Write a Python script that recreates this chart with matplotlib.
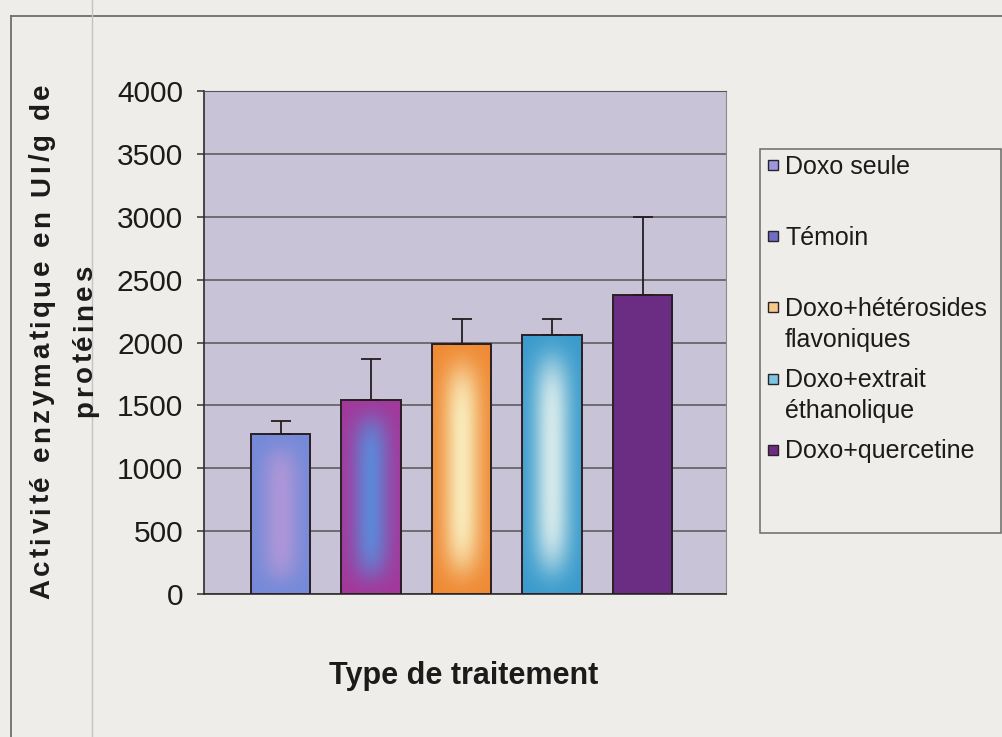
import numpy as np
import matplotlib
matplotlib.use("Agg")
import matplotlib.pyplot as plt
from matplotlib.patches import Rectangle
from matplotlib.lines import Line2D
from matplotlib.font_manager import FontProperties, findfont, get_font
from matplotlib.colors import to_rgb

# ---- data -------------------------------------------------------------
treatments = ["Doxo seule", "Témoin", "Doxo+hétérosides\nflavoniques",
              "Doxo+extrait\néthanolique", "Doxo+quercetine"]
activity = [1270, 1545, 1990, 2060, 2380]          # UI/g de protéines
activity_sd = [105, 320, 200, 130, 620]             # upper error
y_ticks = [0, 500, 1000, 1500, 2000, 2500, 3000, 3500, 4000]
y_title = ["Activité enzymatique en UI/g de", "protéines"]
x_title = "Type de traitement"

# gradient colours (outer edge -> centre) for each bar
edge_colors = ["#748ad8", "#a3389a", "#ef8a34", "#3a9bcc", "#6b2d83"]
center_colors = ["#ad96d8", "#5f86d6", "#f9e9b8", "#d2e8ea", "#6b2d83"]
swatch_colors = ["#9c98de", "#6f6cc6", "#f6c88a", "#7cc4e2", "#6b2d83"]

# ---- figure -----------------------------------------------------------
W, H = 1002, 737
FAMILY = "Liberation Sans"
INK = "#1d1a1b"
PAPER = "#eeede9"

fig = plt.figure(figsize=(W / 100, H / 100), dpi=100, facecolor=PAPER)


def fx(x):
    return x / W


def fy(y_img):
    return 1 - y_img / H


# chart frame (open at right and bottom) and a faint ruling line
fig.add_artist(Line2D([fx(11), fx(11)], [fy(16), 0], color="#6e6e6e", lw=1.3))
fig.add_artist(Line2D([fx(11), 1], [fy(16), fy(16)], color="#6e6e6e", lw=1.3))
fig.add_artist(Line2D([fx(92), fx(92)], [0, 1], color="#c4c4c2", lw=1.0))

ax = fig.add_axes([fx(204), fy(594), (726 - 204) / W, (594 - 91) / H])
ax.set_facecolor("#c8c3d6")

x = np.arange(len(activity))
bar_w = 0.657
bars = ax.bar(x, activity, width=bar_w, facecolor="none",
              edgecolor="#2a1f24", linewidth=1.4, zorder=4)


def gradient_image(c_edge, c_center, nx=80, ny=200):
    u = np.linspace(-1, 1, nx)
    v = np.linspace(-1, 1, ny)
    U, V = np.meshgrid(u, v)
    w = np.exp(-(U / 0.62) ** 2) * np.exp(-(V / 0.82) ** 6)
    e = np.array(to_rgb(c_edge))
    c = np.array(to_rgb(c_center))
    return e + (c - e) * w[..., None]


for patch, ce, cc in zip(bars.patches, edge_colors, center_colors):
    x0, y0 = patch.get_x(), patch.get_y()
    bw, bh = patch.get_width(), patch.get_height()
    im = ax.imshow(gradient_image(ce, cc), extent=[x0, x0 + bw, y0, y0 + bh],
                   origin="lower", aspect="auto", interpolation="bilinear",
                   zorder=3)
    im.set_clip_path(patch)

ax.errorbar(x, activity, yerr=[np.zeros(len(activity)), activity_sd],
            fmt="none", ecolor="#241c1f", elinewidth=1.3, capsize=7,
            capthick=1.3, zorder=5)

ax.set_xlim(-0.845, 4.92)
ax.set_ylim(0, 4000)
ax.set_yticks(y_ticks)
ax.set_yticklabels([str(t) for t in y_ticks], fontsize=21.5, family=FAMILY,
                   color=INK)
ax.set_xticks([])
ax.tick_params(axis="y", length=5, width=1.1, pad=10, color="#333333")
ax.yaxis.grid(True, color="#555555", lw=1.1)
ax.set_axisbelow(True)
for side in ("left", "bottom"):
    ax.spines[side].set_color("#2c2c2c")
    ax.spines[side].set_linewidth(1.2)
ax.spines["top"].set_color("#555555")
ax.spines["right"].set_color("#8a8a8a")


# ---- axis titles --------------------------------------------------------
def spaced_vertical(text, x_base, y_center_img, size, spacing):
    """Bold text rotated 90 deg, drawn glyph by glyph with extra tracking."""
    prop = FontProperties(family=FAMILY, weight="bold", size=size)
    font = get_font(findfont(prop))
    font.set_size(size, fig.dpi)
    adv = [font.load_char(ord(c)).linearHoriAdvance / 65536 for c in text]
    total = sum(adv) + spacing * (len(text) - 1)
    pos = (H - y_center_img) - total / 2
    for ch, a in zip(text, adv):
        fig.text(fx(x_base), pos / H, ch, rotation=90, rotation_mode="anchor",
                 ha="left", va="baseline", fontproperties=prop, color=INK)
        pos += a + spacing


spaced_vertical(y_title[0], 49, 341, 20, 3.3)
spaced_vertical(y_title[1], 92, 341, 20, 3.3)

fig.text(fx(464), fy(684), x_title, ha="center", va="baseline", fontsize=22,
         fontweight="bold", family=FAMILY, color=INK)

# ---- legend -------------------------------------------------------------
fig.add_artist(Rectangle((fx(760), fy(533)), (1001 - 760) / W, (533 - 149) / H,
                         transform=fig.transFigure, facecolor="none",
                         edgecolor="#6a6a6a", lw=1.1))
row0, pitch, line_h = 165, 71.2, 31
for i, (label, sw) in enumerate(zip(treatments, swatch_colors)):
    yc = row0 + i * pitch
    fig.add_artist(Rectangle((fx(768), fy(yc + 5)), 10 / W, 10 / H,
                             transform=fig.transFigure, facecolor=sw,
                             edgecolor="#2a2228", lw=1.0))
    for j, line in enumerate(label.split("\n")):
        fig.text(fx(785), fy(yc + 8.5 + j * line_h), line, ha="left",
                 va="baseline", fontsize=18, family=FAMILY, color=INK)

fig.savefig("out.png", dpi=100, facecolor=PAPER)
